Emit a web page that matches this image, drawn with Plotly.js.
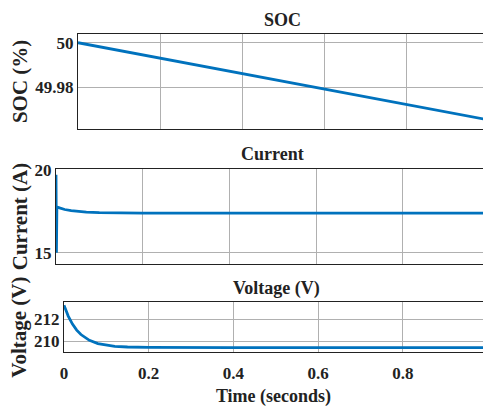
<!DOCTYPE html>
<html><head><meta charset="utf-8">
<script src="https://cdn.plot.ly/plotly-3.0.1.min.js"></script>
<style>html,body{margin:0;padding:0;background:#fff}#c{width:483px;height:407px}</style>
</head><body><div id="c"></div>
<script>
const socTime = [0, 0.2, 0.4, 0.6, 0.8, 0.99];
const socValues = [50, 49.9931, 49.9862, 49.9793, 49.9724, 49.9658];
const curTime = [0, 0.001, 0.002, 0.01, 0.02, 0.035, 0.05, 0.07, 0.1, 0.15, 0.2, 0.4, 0.6, 0.8, 0.99];
const curValues = [19.7, 15.0, 17.75, 17.68, 17.6, 17.53, 17.48, 17.44, 17.41, 17.39, 17.38, 17.38, 17.38, 17.38, 17.38];
const voltTime = [0, 0.01, 0.02, 0.03, 0.04, 0.05, 0.06, 0.08, 0.1, 0.12, 0.15, 0.2, 0.4, 0.6, 0.8, 0.99];
const voltValues = [213.3, 212.3, 211.56, 211.01, 210.6, 210.3, 210.07, 209.77, 209.61, 209.51, 209.45, 209.42, 209.4, 209.4, 209.4, 209.4];
const xTicks = [0, 0.2, 0.4, 0.6, 0.8];
const xTickText = ['0', '0.2', '0.4', '0.6', '0.8'];

const blue = '#0072BD';
const F = 'Liberation Serif, Times New Roman, serif';
const grid = '#b0b0b0';
const line = {color: blue, width: 2.8};

const traces = [
  {x: socTime, y: socValues, type: 'scatter', mode: 'lines', line, xaxis: 'x', yaxis: 'y'},
  {x: curTime, y: curValues, type: 'scatter', mode: 'lines', line, xaxis: 'x2', yaxis: 'y2'},
  {x: voltTime, y: voltValues, type: 'scatter', mode: 'lines', line, xaxis: 'x3', yaxis: 'y3'}
];

function xa(domain, range, anchor, labels) {
  return {domain, range, anchor, tickvals: xTicks, ticktext: xTickText, showticklabels: labels,
    showgrid: true, gridcolor: grid, gridwidth: 1, zeroline: false,
    showline: true, linecolor: '#222', linewidth: 1, mirror: true, ticks: '',
    tickfont: {family: F, size: 17, color: '#222', weight: 'bold'}, ticklabelstandoff: 6};
}
function ya(domain, range, anchor, vals, text, title) {
  return {domain, range, anchor, tickvals: vals, ticktext: text,
    showgrid: true, gridcolor: grid, gridwidth: 1, zeroline: false,
    showline: true, linecolor: '#222', linewidth: 1, mirror: false, ticks: '',
    tickfont: {family: F, size: 17, color: '#222', weight: 'bold'},
    title: {text: title, font: {family: F, size: 21, color: '#222', weight: 'bold'}, standoff: 1}};
}

const layout = {
  width: 483, height: 407, margin: {l: 0, r: 0, t: 0, b: 0},
  paper_bgcolor: '#fff', plot_bgcolor: '#fff', showlegend: false,
  xaxis: xa([78/483, 1], [0, 0.9878], 'y', false),
  yaxis: ya([0.683, 0.917], [49.9613, 50.004], 'x', [49.98, 50], ['49.98', '50'], 'SOC (%)'),
  xaxis2: xa([56/483, 1], [0, 0.985], 'y2', false),
  yaxis2: ya([0.3514, 0.5848], [14.32, 20.04], 'x2', [15, 20], ['15', '20'], 'Current (A)'),
  xaxis3: Object.assign(xa([64/483, 1], [0, 0.9894], 'y3', true),
    {title: {text: 'Time (seconds)', font: {family: F, size: 18, color: '#222', weight: 'bold'}, standoff: 7}}),
  yaxis3: ya([0.1351, 0.2572], [208.99, 213.57], 'x3', [210, 212], ['210', '212'], 'Voltage (V)'),
  annotations: [
    {text: 'SOC', x: 282/483, y: 1 - 20/407},
    {text: 'Current', x: 272/483, y: 1 - 154/407},
    {text: 'Voltage (V)', x: 276/483, y: 1 - 288/407}
  ].map(a => Object.assign(a, {xref: 'paper', yref: 'paper', showarrow: false, xanchor: 'center', yanchor: 'middle',
    font: {family: F, size: 18, color: '#222', weight: 'bold'}}))
};

Plotly.newPlot('c', traces, layout, {staticPlot: true, displayModeBar: false});
</script></body></html>
